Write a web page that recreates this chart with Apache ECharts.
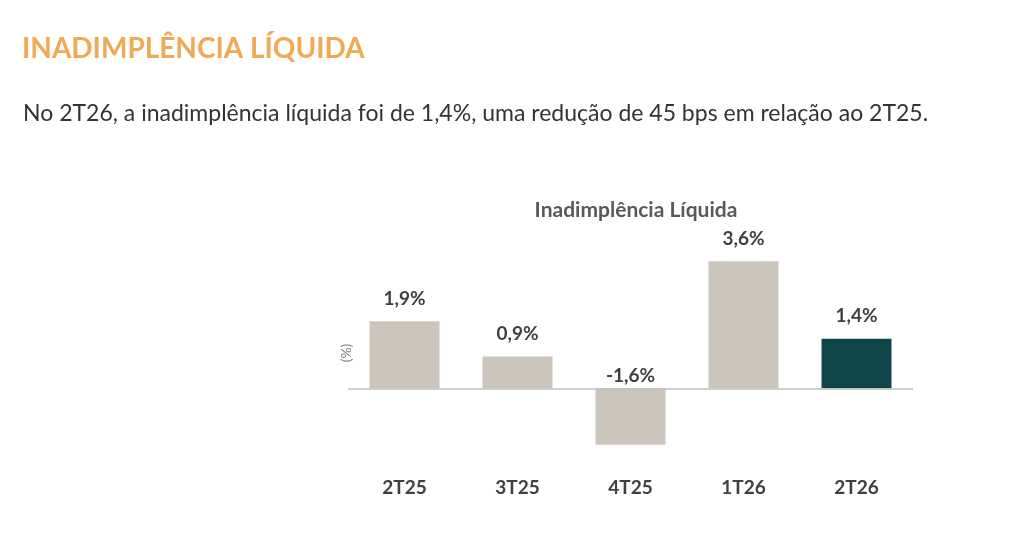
<!DOCTYPE html>
<html><head><meta charset="utf-8">
<script src="https://cdn.jsdelivr.net/npm/echarts@6/dist/echarts.min.js"></script>
<style>html,body{margin:0;padding:0;background:#fff;}#c{width:1024px;height:539px;}</style>
</head><body><div id="c"></div>
<script>
const categories = ['2T25','3T25','4T25','1T26','2T26'];
const values = [1.9, 0.9, -1.6, 3.6, 1.4];
const labelTexts = ['1,9%','0,9%','-1,6%','3,6%','1,4%'];
const highlightIndex = 4;

const FONT = 'Lato, "Open Sans", sans-serif';
const chart = echarts.init(document.getElementById('c'));
chart.setOption({
  backgroundColor: '#ffffff',
  animation: false,
  title: [
    { text: 'INADIMPLÊNCIA LÍQUIDA', left: 17, top: 30,
      textStyle: { color: '#F0A957', fontSize: 28, fontWeight: 'bold', fontFamily: FONT } },
    { text: 'No 2T26, a inadimplência líquida foi de 1,4%, uma redução de 45 bps em relação ao 2T25.', left: 18, top: 97,
      textStyle: { color: '#333333', fontSize: 23, fontWeight: 'normal', fontFamily: FONT } },
    { text: 'Inadimplência Líquida', left: 631, textAlign: 'center', top: 195,
      textStyle: { color: '#595959', fontSize: 21, fontWeight: 'bold', fontFamily: FONT } }
  ],
  grid: { left: 348, right: 111, top: 247, height: 212 },
  xAxis: {
    type: 'category', data: categories, position: 'bottom',
    axisLine: { show: false, onZero: false }, axisTick: { show: false },
    axisLabel: { margin: 19, color: '#404040', fontSize: 19, fontWeight: 'bold', fontFamily: FONT }
  },
  yAxis: {
    type: 'value', min: -2, max: 4, interval: 1,
    name: '(%)', nameLocation: 'middle', nameGap: -5, nameRotate: 90,
    nameTextStyle: { color: '#7F7F7F', fontSize: 14, fontFamily: FONT },
    axisLine: { show: false }, axisTick: { show: false }, axisLabel: { show: false },
    splitLine: { show: false }
  },
  series: [{
    type: 'bar', barWidth: 70,
    data: values.map((v, i) => ({
      value: v,
      itemStyle: { color: i === highlightIndex ? '#10464A' : '#CCC5BB' },
      label: { distance: v < 0 ? 3 : 13 }
    })),
    label: {
      show: true, position: 'top',
      formatter: p => labelTexts[p.dataIndex],
      color: '#404040', fontSize: 19, fontWeight: 'bold', fontFamily: FONT
    },
    markLine: {
      silent: true, symbol: 'none', label: { show: false },
      lineStyle: { color: '#BFBFBF', width: 1.5, type: 'solid' },
      data: [{ yAxis: 0 }]
    }
  }]
});
</script></body></html>
